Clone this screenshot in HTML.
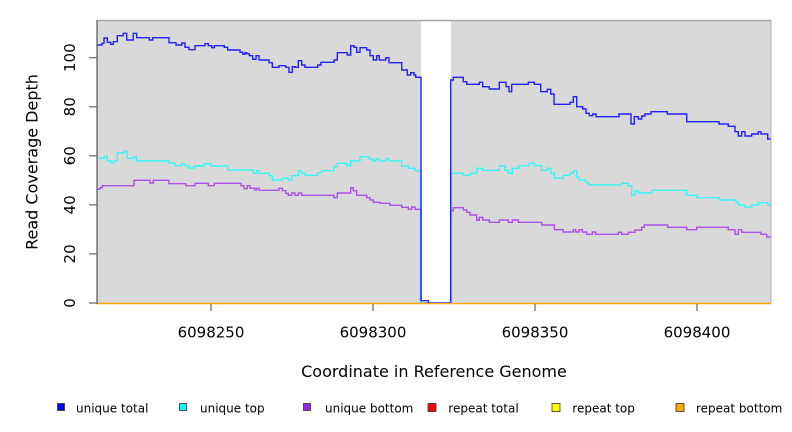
<!DOCTYPE html>
<html><head><meta charset="utf-8"><style>
html,body{margin:0;padding:0;background:#fff;}
svg{display:block;}
text{font-family:"DejaVu Sans","Liberation Sans",sans-serif;fill:#000;}
</style></head><body>
<svg width="792" height="432" viewBox="0 0 792 432" xmlns="http://www.w3.org/2000/svg">
<rect x="97" y="20" width="674" height="283" fill="#d9d9d9"/>
<rect x="421" y="20" width="30" height="283" fill="#ffffff"/>
<g fill="none" stroke-width="1.4" stroke-linejoin="miter">
<path stroke="#a020f0" stroke-opacity="0.75" d="M97,189.3 H100 V187.7 H102.3 V185.7 H134 V180.3 H150 V183 H153.3 V180.3 H169 V183.7 H185.7 V185.7 H195 V183.3 H208.3 V185.7 H214.3 V183.3 H241 V185.7 H244 V188.7 H247.3 V185.7 H250 V188.3 H255 V190 H256.7 V188.3 H259.3 V190.3 H279 V188.3 H282.3 V190.7 H285.7 V193.3 H288.3 V195.3 H291.7 V193 H295 V195.3 H298.3 V193 H301.7 V195.3 H334 V197.7 H337.3 V193 H350.7 V187.7 H353.3 V190.7 H356.7 V195.3 H366.7 V197.7 H370 V200 H373.3 V202.3 H380 V203.3 H390 V205.3 H401.7 V207.3 H408.3 V209.3 H411.7 V207 H415 V209.3 H421 V303 H450.7 V210.7 H453.3 V207.7 H463.3 V210 H466.7 V212.3 H470 V215 H476.7 V220.3 H479.3 V217.3 H482.7 V220 H489.3 V222.3 H499.3 V220 H508.3 V222.3 H512.3 V220 H518.3 V222.3 H541.7 V225 H554.3 V229.7 H563.3 V232 H573.3 V229.7 H575.7 V232 H579 V229.7 H582.3 V232 H586.7 V234.3 H592.3 V232 H595.7 V234.3 H618.3 V232.3 H621.7 V234.3 H628.3 V232.3 H635 V230 H641.7 V227.3 H644.3 V225 H667.7 V227.3 H686.7 V229.7 H696.7 V227.3 H728.3 V229.7 H735 V234.3 H738.3 V229.7 H741.7 V232.3 H761 V234.3 H766.7 V237 H771"/>
<path stroke="#00ffff" stroke-opacity="0.75" d="M97,158.3 H104.3 V156.3 H107.3 V160.7 H110.7 V162.7 H114.3 V160.7 H117.3 V153 H124 V151.3 H127 V158.3 H133.7 V156.7 H136.3 V161 H169 V163.3 H175 V165.7 H181.7 V163.7 H185 V165.7 H188.3 V168 H194.3 V166 H204.3 V163.7 H211 V166 H227.7 V170 H253.3 V173.3 H256.7 V170.7 H259.3 V173.3 H269.3 V175.7 H272.3 V180 H282.3 V178.3 H288.3 V180 H291.7 V175.7 H298.3 V170.7 H301.7 V173.3 H305 V175.3 H317.7 V172.7 H321.7 V170.7 H334 V166.7 H337.3 V163.3 H346.7 V165.7 H350.7 V161 H360 V156.7 H369.3 V159 H372.7 V161 H376 V158.7 H379.3 V161 H385.7 V158.7 H389 V161 H401.7 V166 H408.3 V168.3 H415 V170.7 H421 V303 H450.7 V173.3 H463.3 V175.3 H470 V173.3 H476.7 V168.3 H482.7 V170.3 H499.3 V166 H505 V170.3 H508.3 V173.3 H512.3 V168.3 H519 V165.7 H529 V163.3 H534.3 V165.7 H541.7 V170.3 H547.7 V168.3 H551 V173.3 H554.3 V178 H563.3 V175.3 H570 V173.3 H573.3 V170.7 H576.7 V177.3 H579 V180 H585.7 V182.7 H589 V185 H621.7 V183.3 H628.3 V185.7 H631.7 V195.3 H635 V190.7 H638.3 V193 H651.7 V190.3 H686.7 V195.3 H696.7 V197.7 H719.3 V200 H736 V202.3 H738.3 V205 H745 V207 H751.7 V205 H758.3 V202.7 H767.7 V205 H771"/>
<path stroke="#0000ff" stroke-opacity="0.85" d="M97,45 H102 V43.3 H104 V38 H107.3 V42.3 H110.7 V44.3 H113.3 V41.7 H117.3 V35.7 H123.3 V33.3 H126.7 V40 H133.3 V33.3 H136.7 V37.7 H149.3 V40 H152.7 V37.7 H169 V42.7 H176 V45 H181.7 V43 H185 V47.3 H189 V49.7 H195 V45.7 H205 V43.7 H208.3 V45.7 H211.7 V47.7 H214.3 V45.7 H224.3 V47.3 H227.7 V50 H240 V52.3 H242.7 V54.3 H245 V52.7 H246.7 V53.7 H249.3 V55.7 H252.7 V59.3 H256 V55.7 H259 V60 H269 V62.7 H272.3 V67.3 H279 V65.7 H285.7 V67.3 H289 V72.3 H292.3 V66.7 H295 V67.3 H298.3 V60.7 H301.7 V65 H305 V67.3 H317.7 V65 H321 V62.3 H334 V60 H337.3 V52.7 H347.3 V55 H350.7 V45.7 H354 V47.3 H356.7 V52.3 H360 V47.7 H366.7 V50 H370 V55.7 H373.3 V60 H376.7 V55.7 H379.3 V60 H385.7 V57.7 H389 V62.7 H401.7 V70 H407.3 V75 H410.7 V72.7 H414 V75 H415.7 V77.3 H421 V300.7 H428.3 V303 H450.7 V80 H453.3 V77.3 H463.3 V81.7 H466.7 V84.3 H479.3 V82.3 H482.7 V86.7 H489.3 V89 H499.3 V82.3 H506 V86.7 H509 V91.7 H511.7 V84.3 H528.3 V82.3 H534.3 V84.3 H540.7 V91.7 H547.3 V89.3 H550.7 V94 H554 V104.3 H570 V102.3 H573.3 V96.7 H576.7 V106.7 H582.7 V109 H586 V113.3 H589.3 V115.7 H592.7 V114 H596 V116.7 H619 V114 H631 V124 H634.3 V116.7 H638.3 V119 H641.7 V116 H645 V114 H651 V111.7 H667.3 V114 H686.7 V121.7 H719 V124 H728.3 V126.3 H735 V131.7 H738.3 V136 H741.7 V131.7 H745 V136 H751.7 V134 H758.3 V131.7 H761 V134 H767.7 V139 H771"/>
</g>
<line x1="97" y1="303.5" x2="771" y2="303.5" stroke="#ffa500" stroke-width="1.4"/>
<line x1="97" y1="20.5" x2="771" y2="20.5" stroke="#a8a8a8" stroke-width="1.5"/>
<line x1="771" y1="20" x2="771" y2="303" stroke="#b0b0b0" stroke-width="1"/>
<line x1="97" y1="20" x2="97" y2="304" stroke="#555" stroke-width="1.2"/>
<g stroke="#666" stroke-width="1.2">
<line x1="89" y1="303" x2="97" y2="303"/>
<line x1="89" y1="253.9" x2="97" y2="253.9"/>
<line x1="89" y1="204.9" x2="97" y2="204.9"/>
<line x1="89" y1="155.8" x2="97" y2="155.8"/>
<line x1="89" y1="106.8" x2="97" y2="106.8"/>
<line x1="89" y1="57.7" x2="97" y2="57.7"/>
<line x1="211" y1="304" x2="211" y2="311"/>
<line x1="373" y1="304" x2="373" y2="311"/>
<line x1="535" y1="304" x2="535" y2="311"/>
<line x1="697" y1="304" x2="697" y2="311"/>
</g>
<g font-size="15" text-anchor="middle">
<text transform="translate(75,303) rotate(-90)">0</text>
<text transform="translate(75,253.9) rotate(-90)">20</text>
<text transform="translate(75,204.9) rotate(-90)">40</text>
<text transform="translate(75,155.8) rotate(-90)">60</text>
<text transform="translate(75,106.8) rotate(-90)">80</text>
<text transform="translate(75,57.7) rotate(-90)">100</text>
<text x="211" y="337.5">6098250</text>
<text x="373" y="337.5">6098300</text>
<text x="535" y="337.5">6098350</text>
<text x="697" y="337.5">6098400</text>
</g>
<g font-size="16" text-anchor="middle">
<text transform="translate(37.5,162) rotate(-90)">Read Coverage Depth</text>
<text x="434" y="377">Coordinate in Reference Genome</text>
</g>
<g stroke="#333" stroke-width="0.8">
<rect x="57.5" y="403.5" width="7" height="7" fill="#0000ff"/>
<rect x="179.5" y="403.5" width="7" height="7" fill="#00ffff"/>
<rect x="303.5" y="403.5" width="7" height="7" fill="#a020f0"/>
<rect x="428" y="403.5" width="8" height="8" fill="#ff0000"/>
<rect x="552" y="403.5" width="8" height="8" fill="#ffff00"/>
<rect x="676" y="403.5" width="8" height="8" fill="#ffa500"/>
</g>
<g font-size="12">
<text x="76" y="412.5">unique total</text>
<text x="200" y="412.5">unique top</text>
<text x="325" y="412.5">unique bottom</text>
<text x="448.3" y="412.5">repeat total</text>
<text x="572.3" y="412.5">repeat top</text>
<text x="696" y="412.5">repeat bottom</text>
</g>
</svg>
</body></html>
